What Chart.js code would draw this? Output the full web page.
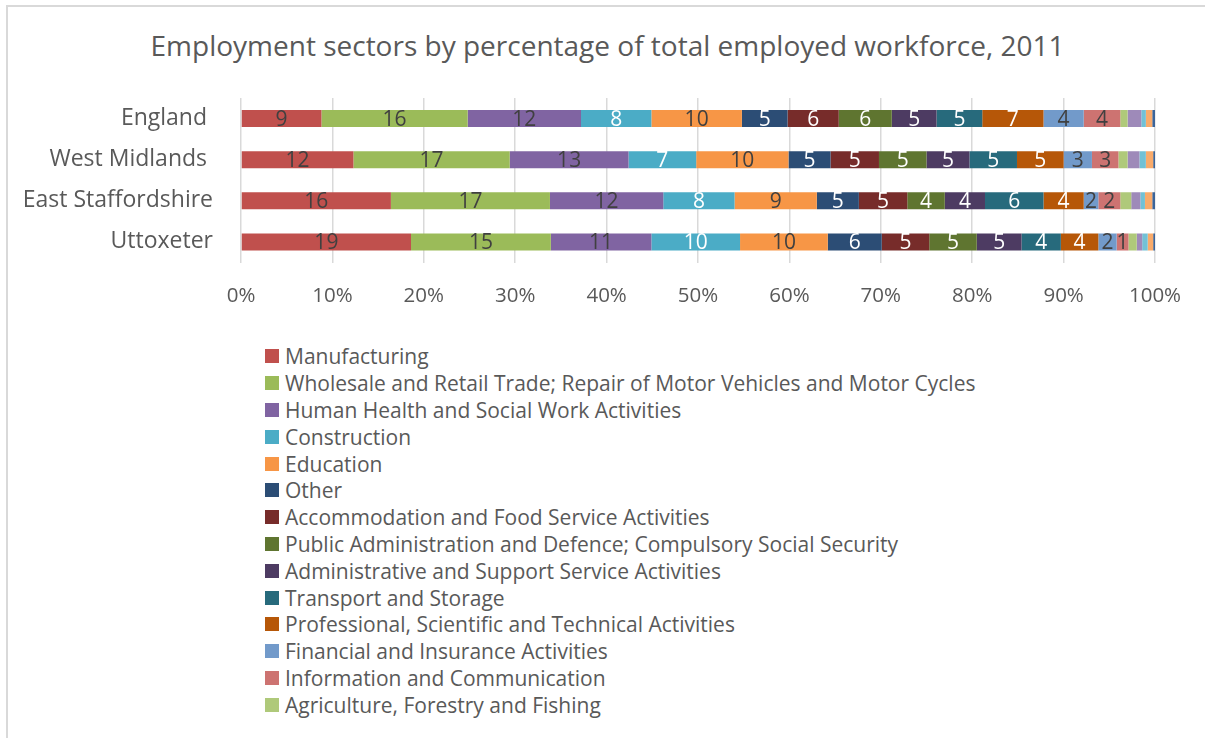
<!DOCTYPE html>
<html>
<head>
<meta charset="utf-8">
<title>Employment sectors 2011</title>
<script src="https://cdn.jsdelivr.net/npm/chart.js@4.4.0/dist/chart.umd.min.js"></script>
<style>
  html, body { margin: 0; padding: 0; background: #fff; overflow: hidden; }
  body { width: 1205px; height: 738px; position: relative; font-family: 'Open Sans', sans-serif; }
  /* chart frame edges (top and left; the rest falls off the page) */
  .edge { position: absolute; background: #d9d9d9; }
  #edgeTop { left: 6px; top: 5px; width: 1199px; height: 2px; }
  #edgeLeft { left: 6px; top: 5px; width: 2px; height: 733px; }
  #title { position: absolute; left: 10px; top: 28.8px; width: 1195px; margin: 0; text-align: center;
           font-size: 28px; line-height: 33.6px; font-weight: normal; color: #595959; white-space: nowrap; }
  #chartBox { position: absolute; left: 0; top: 0; width: 1205px; height: 330px; }
  #legend { position: absolute; left: 265px; top: 343px; margin: 0; padding: 0; list-style: none; }
  #legend li { height: 26.8px; display: flex; align-items: center; font-size: 21px; color: #595959; white-space: nowrap; }
  #legend .box { width: 14px; height: 14px; margin-right: 6px; flex: none; }
</style>
</head>
<body>
<div class="edge" id="edgeTop"></div>
<div class="edge" id="edgeLeft"></div>
<h1 id="title"></h1>
<div id="chartBox"><canvas id="sectorChart" width="1205" height="330"></canvas></div>
<ul id="legend"></ul>
<script>
const chartTitle = 'Employment sectors by percentage of total employed workforce, 2011';

// regions on the y axis (top to bottom)
const regions = ['England ', 'West Midlands ', 'East Staffordshire', 'Uttoxeter'];

// industry sectors, in stacking order
const sectors = [
    'Manufacturing',
    'Wholesale and Retail Trade; Repair of Motor Vehicles and Motor Cycles',
    'Human Health and Social Work Activities',
    'Construction',
    'Education',
    'Other',
    'Accommodation and Food Service Activities',
    'Public Administration and Defence; Compulsory Social Security',
    'Administrative and Support Service Activities',
    'Transport and Storage',
    'Professional, Scientific and Technical Activities',
    'Financial and Insurance Activities',
    'Information and Communication',
    'Agriculture, Forestry and Fishing',
    'Real Estate Activities',
    'Electricity, Gas, Steam and Air Conditioning Supply',
    'Water Supply; Sewerage, Waste Management and Remediation Activities',
    'Mining and Quarrying'
];

// % of employed workforce per sector (same order as sectors)
const england           = [8.8, 16.0, 12.4, 7.7, 9.9, 5.0, 5.6, 5.8, 4.9, 5.0, 6.7, 4.4, 4.0, 0.8, 1.5, 0.5, 0.7, 0.3];
const westMidlands      = [12.3, 17.1, 13.0, 7.4, 10.1, 4.6, 5.3, 5.2, 4.7, 5.2, 5.1, 3.1, 2.9, 1.0, 1.3, 0.7, 0.8, 0.2];
const eastStaffordshire = [16.4, 17.4, 12.4, 7.8, 9.0, 4.6, 5.3, 4.1, 4.4, 6.4, 4.4, 1.6, 2.4, 1.2, 1.0, 0.5, 0.8, 0.3];
const uttoxeter         = [18.6, 15.3, 11.0, 9.7, 9.6, 5.9, 5.2, 5.2, 4.9, 4.3, 4.1, 2.0, 1.3, 0.9, 0.6, 0.6, 0.6, 0.2];

// x axis ticks (percent)
const tickValues = [0, 10, 20, 30, 40, 50, 60, 70, 80, 90, 100];

// only these many sectors get value labels / legend entries
const labelledCount = 13;
const legendCount = 14;

const sectorColors = [
    '#C0504D', '#9BBB59', '#8064A2', '#4BACC6', '#F79646', '#2C4D75',
    '#772C2A', '#5F7530', '#4D3B62', '#276A7C', '#B65708', '#729ACA',
    '#CD7371', '#AFC97A', '#9E8AB9', '#72C1D5', '#F9AB6B', '#3B6499'
];
const labelColors = [
    '#404040', '#404040', '#404040', '#ffffff', '#404040', '#ffffff',
    '#ffffff', '#ffffff', '#ffffff', '#ffffff', '#ffffff', '#404040', '#404040'
];

const textColor = '#595959';
Chart.defaults.font.family = "'Open Sans', sans-serif";
Chart.defaults.color = textColor;

document.getElementById('title').textContent = chartTitle;

const datasets = sectors.map((name, i) => ({
    label: name,
    data: [england[i], westMidlands[i], eastStaffordshire[i], uttoxeter[i]],
    backgroundColor: sectorColors[i],
    borderWidth: 0,
    categoryPercentage: 1,
    barPercentage: 0.415
}));

// value labels in the middle of each segment, rounded like the source
const segmentLabels = {
    id: 'segmentLabels',
    afterDatasetsDraw(chart) {
        const ctx = chart.ctx;
        ctx.save();
        ctx.font = "21px 'Open Sans', sans-serif";
        ctx.textAlign = 'center';
        ctx.textBaseline = 'middle';
        chart.data.datasets.forEach((ds, i) => {
            if (i >= labelledCount) return;
            const meta = chart.getDatasetMeta(i);
            ctx.fillStyle = labelColors[i];
            meta.data.forEach((bar, j) => {
                const c = bar.getCenterPoint();
                ctx.fillText(String(Math.round(ds.data[j])), c.x, c.y + 1);
            });
        });
        ctx.restore();
    }
};

const chart = new Chart(document.getElementById('sectorChart'), {
    type: 'bar',
    data: { labels: regions, datasets: datasets },
    plugins: [segmentLabels],
    options: {
        indexAxis: 'y',
        responsive: false,
        animation: false,
        devicePixelRatio: 1,
        // top padding leaves room for the html title
        layout: { padding: { left: 0, right: 50, top: 98, bottom: 0 } },
        plugins: {
            legend: { display: false },
            tooltip: { enabled: false },
            title: { display: false }
        },
        scales: {
            x: {
                stacked: true,
                min: 0,
                max: 100,
                afterBuildTicks(scale) {
                    scale.ticks = tickValues.map(v => ({ value: v }));
                },
                afterFit(scale) {
                    scale.height = 67.5;
                    scale.paddingLeft = 0;
                    scale.paddingRight = 0;
                },
                ticks: {
                    padding: 21.5,
                    font: { size: 20.5 },
                    color: textColor,
                    callback: v => v + '%'
                },
                grid: { color: '#d9d9d9', lineWidth: 1.5, drawTicks: false },
                border: { display: false }
            },
            y: {
                stacked: true,
                afterFit(scale) {
                    scale.width = 241;
                },
                ticks: {
                    padding: 28,
                    font: { size: 23 },
                    color: textColor
                },
                grid: { display: false, drawTicks: false },
                border: { display: false }
            }
        }
    }
});

// legend list built from the chart's datasets
const legendEl = document.getElementById('legend');
chart.data.datasets.slice(0, legendCount).forEach(ds => {
    const li = document.createElement('li');
    const box = document.createElement('span');
    box.className = 'box';
    box.style.background = ds.backgroundColor;
    li.appendChild(box);
    li.appendChild(document.createTextNode(ds.label));
    legendEl.appendChild(li);
});
</script>
</body>
</html>
